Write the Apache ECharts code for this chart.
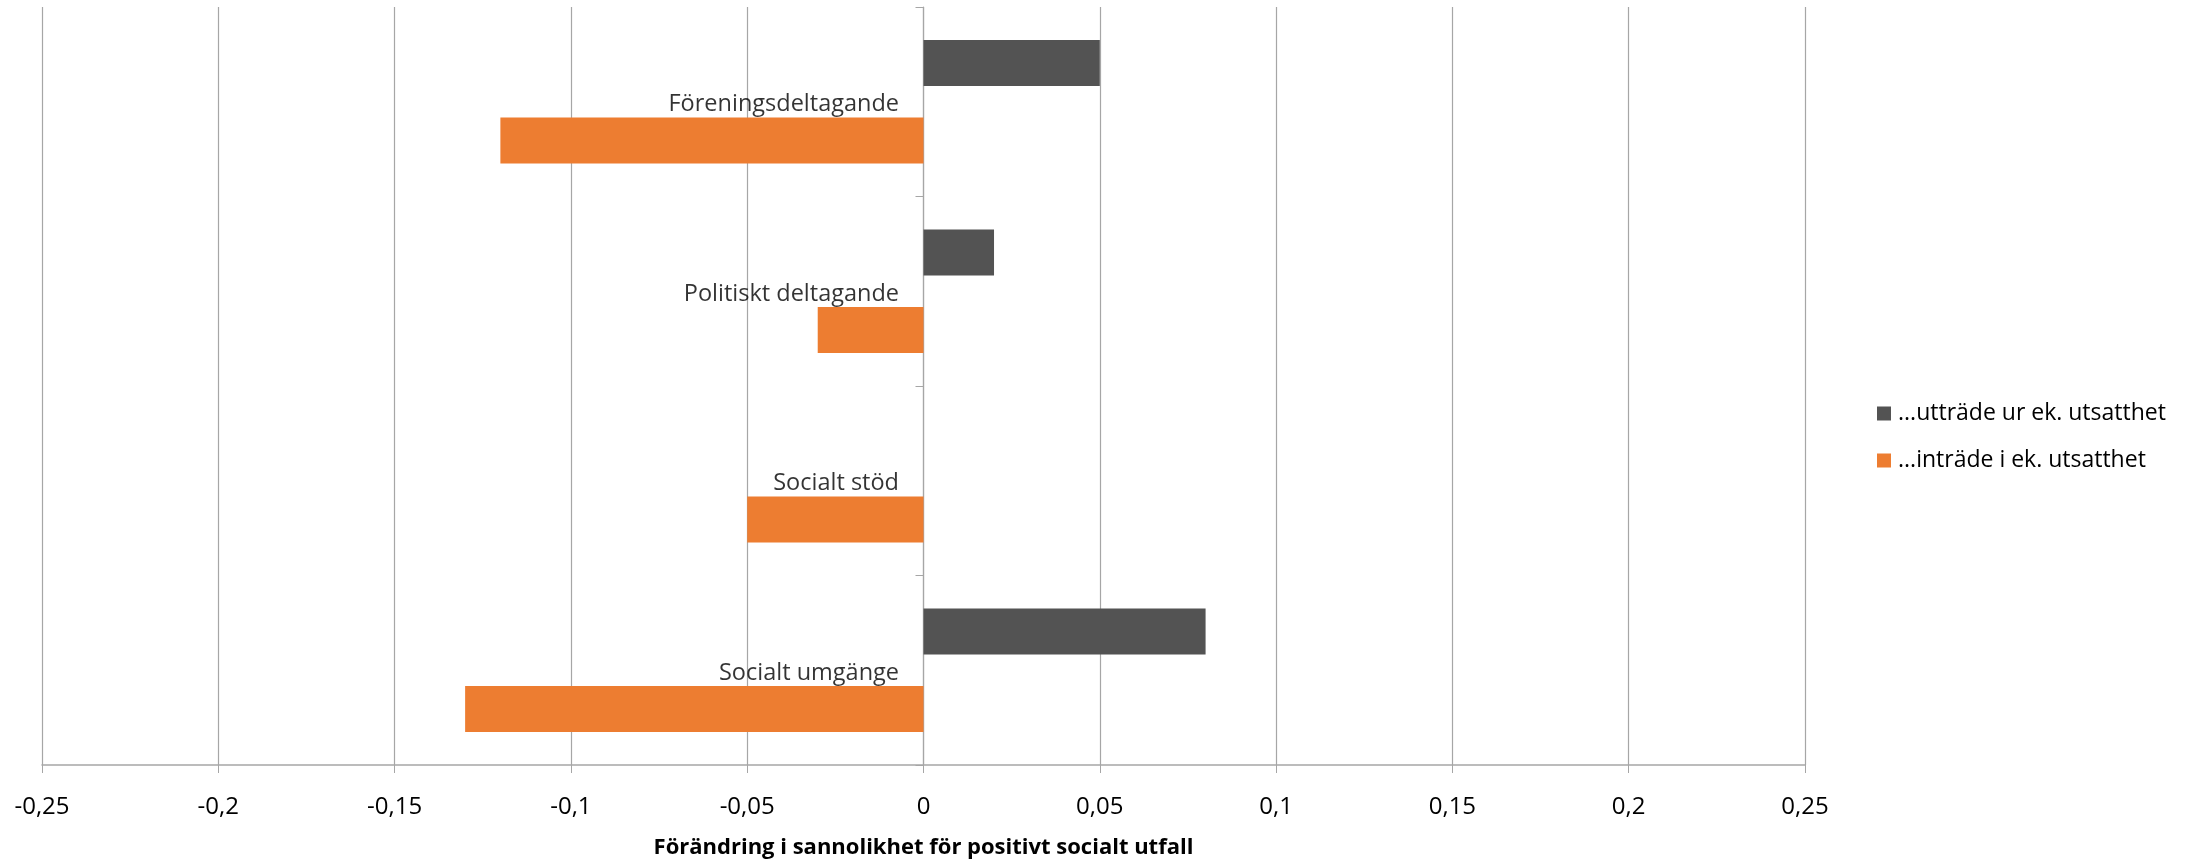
<!DOCTYPE html>
<html>
<head>
<meta charset="utf-8">
<script src="https://cdn.jsdelivr.net/npm/echarts@6/dist/echarts.min.js"></script>
<style>
  html, body { margin: 0; padding: 0; background: #fff; }
  #chart { width: 2190px; height: 860px; }
</style>
</head>
<body>
<div id="chart"></div>
<script>
// Outcome categories, listed top to bottom
const categories = ['Föreningsdeltagande', 'Politiskt deltagande', 'Socialt stöd', 'Socialt umgänge'];
// Change in probability of a positive social outcome
const uttrade = [0.05, 0.02, null, 0.08];    // ...utträde ur ek. utsatthet
const intrade = [-0.12, -0.03, -0.05, -0.13]; // ...inträde i ek. utsatthet
const seriesNames = ['...utträde ur ek. utsatthet', '...inträde i ek. utsatthet'];
const axisTitle = 'Förändring i sannolikhet för positivt socialt utfall';

const FONT = '"Open Sans", sans-serif';

const chart = echarts.init(document.getElementById('chart'), null, { renderer: 'canvas' });

chart.setOption({
  animation: false,
  backgroundColor: '#ffffff',
  textStyle: { fontFamily: FONT },
  grid: { left: 42, right: 385, top: 7, bottom: 95, containLabel: false, outerBoundsMode: 'none' },
  legend: {
    orient: 'vertical',
    left: 1872,
    top: 397,
    icon: 'rect',
    itemWidth: 14,
    itemHeight: 14,
    itemGap: 24,
    textStyle: { fontFamily: FONT, fontSize: 23, color: '#000', padding: [0, 0, 0, 2] },
    data: seriesNames
  },
  xAxis: {
    type: 'value',
    min: -0.25,
    max: 0.25,
    interval: 0.05,
    name: axisTitle,
    nameLocation: 'middle',
    nameGap: 72,
    nameTextStyle: { fontFamily: FONT, fontSize: 22, fontWeight: 'bold', color: '#000' },
    axisLine: { show: true, lineStyle: { color: '#a6a6a6', width: 1.5 } },
    axisTick: { show: true, length: 8, lineStyle: { color: '#a6a6a6' } },
    axisLabel: {
      margin: 30,
      fontSize: 24,
      color: '#000',
      fontFamily: FONT,
      formatter: v => String(Math.round(v * 100) / 100).replace('.', ',')
    },
    splitLine: { show: true, lineStyle: { color: '#a6a6a6', width: 1.2 } }
  },
  yAxis: {
    type: 'category',
    data: categories,
    inverse: true,
    axisLine: { show: true, onZero: true, lineStyle: { color: '#a6a6a6', width: 1.2 } },
    axisTick: { show: true, length: 8, lineStyle: { color: '#a6a6a6' } },
    axisLabel: { show: false },
    splitLine: { show: false }
  },
  series: [
    {
      name: seriesNames[0],
      type: 'bar',
      data: uttrade,
      barWidth: 46,
      barGap: '68%',
      itemStyle: { color: '#535353' }
    },
    {
      name: seriesNames[1],
      type: 'bar',
      data: intrade,
      barWidth: 46,
      barGap: '68%',
      itemStyle: { color: '#ED7D31' }
    },
    {
      // category names, placed just left of the zero line at each band centre
      name: 'kategorier',
      type: 'scatter',
      data: categories.map(c => [0, c]),
      symbol: 'circle',
      symbolSize: 1,
      itemStyle: { color: 'rgba(0,0,0,0)' },
      silent: true,
      z: 5,
      label: {
        show: true,
        position: 'left',
        distance: 24,
        offset: [0, 3],
        formatter: p => categories[p.dataIndex],
        fontFamily: FONT,
        fontSize: 23.5,
        color: '#000'
      }
    }
  ]
});
</script>
</body>
</html>
